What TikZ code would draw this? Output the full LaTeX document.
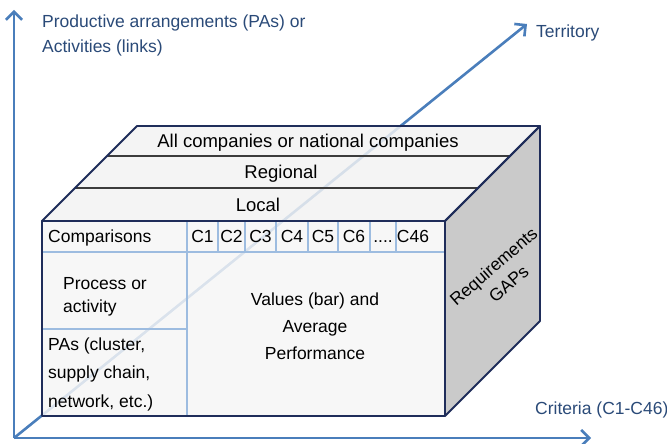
\documentclass[tikz,border=0pt]{standalone}
\usepackage{fontspec}
\setmainfont{Liberation Sans}
\usetikzlibrary{arrows.meta}
\definecolor{axisblue}{HTML}{4A7EBB}
\definecolor{labblue}{HTML}{2A4A78}
\definecolor{navy}{HTML}{1F2D5A}
\definecolor{topfill}{HTML}{F2F2F2}
\definecolor{frontfill}{HTML}{F6F6F6}
\definecolor{sidefill}{HTML}{CACACA}
\definecolor{sepgrey}{HTML}{3C3C3C}
\definecolor{innerblue}{HTML}{9DBCE0}
\begin{document}
\begin{tikzpicture}[x=1pt,y=-1pt,
  axis/.style={line width=2.6pt, draw=axisblue, -{Straight Barb[length=8pt,width=16pt]}},
  axlabel/.style={text=labblue, font=\fontsize{17.5}{25}\selectfont, inner sep=0pt},
  edge/.style={draw=navy, line width=1.8pt, line join=round},
  sepline/.style={draw=sepgrey, line width=2.4pt},
  innerline/.style={draw=innerblue, line width=1.3pt},
  txt/.style={font=\fontsize{17.5}{23}\selectfont, inner sep=0pt, text=black},
  toptxt/.style={font=\fontsize{18.5}{22}\selectfont, inner sep=0pt, text=black}]
\useasboundingbox (0,0) rectangle (667,444);
% axes
\coordinate (O) at (14,438);
\coordinate (Ytip) at (14,10);
\coordinate (Xtip) at (591,438);
\coordinate (Ztip) at (527,24);
\draw[axis] (O) -- (Ztip);
\draw[axis] (O) -- (Ytip);
\draw[axis] (O) -- (Xtip);
% box corners
\coordinate (FTL) at (42,221);
\coordinate (FTR) at (445,221);
\coordinate (FBR) at (445,416);
\coordinate (FBL) at (42,416);
\coordinate (BTL) at (137,126);
\coordinate (BTR) at (540,126);
\coordinate (BBR) at (540,321);
% faces
\fill[topfill, fill opacity=0.84] (FTL) -- (BTL) -- (BTR) -- (FTR) -- cycle;
\fill[sidefill] (FTR) -- (BTR) -- (BBR) -- (FBR) -- cycle;
\fill[frontfill, fill opacity=0.84] (FTL) rectangle (FBR);
% strips on top face
\coordinate (L1a) at (107,156);
\coordinate (L1b) at (510,156);
\coordinate (L2a) at (75,188);
\coordinate (L2b) at (478,188);
\draw[sepline] (L1a) -- (L1b);
\draw[sepline] (L2a) -- (L2b);
% inner lines of the front face
\draw[innerblue, line width=2pt] (42,252) -- (445,252);
\draw[innerline] (187,221) -- (187,416);
\draw[innerline] (42,329) -- (187,329);
\foreach \xx in {218,245,276,308,338,370,396}
  \draw[innerline] (\xx,221) -- (\xx,252);
% outlines
\draw[edge] (FTL) -- (BTL) -- (BTR) -- (FTR) -- cycle;
\draw[edge] (FTR) -- (BTR) -- (BBR) -- (FBR) -- cycle;
\draw[edge] (FTL) rectangle (FBR);
% texts
\node[axlabel, anchor=west, align=left] (ylab) at (42,35) {Productive arrangements (PAs) or\\Activities (links)};
\node[axlabel, anchor=west] (zlab) at (536,33) {Territory};
\node[axlabel, anchor=west] (xlab) at (535,410) {Criteria (C1-C46)};
\node[toptxt, anchor=base] (all) at (308,147) {All companies or national companies};
\node[toptxt, anchor=base] (reg) at (281,178.5) {Regional};
\node[toptxt, anchor=base] (loc) at (258,211) {Local};
\node[txt, anchor=base west] (cmp) at (48,242) {Comparisons};
\node[txt, anchor=base] (c1) at (202.5,242) {C1};
\node[txt, anchor=base] (c2) at (231.5,242) {C2};
\node[txt, anchor=base] (c3) at (260.5,242) {C3};
\node[txt, anchor=base] (c4) at (292,242) {C4};
\node[txt, anchor=base] (c5) at (323,242) {C5};
\node[txt, anchor=base] (c6) at (354,242) {C6};
\node[txt, anchor=base] (cdots) at (383,242) {....};
\node[txt, anchor=base] (c46) at (413,242) {C46};
\node[txt, anchor=west, align=left] (proc) at (63,297) {Process or\\activity};
\node[txt, anchor=west, align=left, font=\fontsize{17.5}{28.5}\selectfont] (pas) at (48,374) {PAs (cluster,\\supply chain,\\network, etc.)};
\node[txt, align=center, font=\fontsize{17.5}{27}\selectfont] (vals) at (315,326) {Values (bar) and\\Average\\Performance};
\node[txt, align=center, rotate=41] (req) at (501,275) {Requirements\\GAPs};
\end{tikzpicture}
\end{document}
